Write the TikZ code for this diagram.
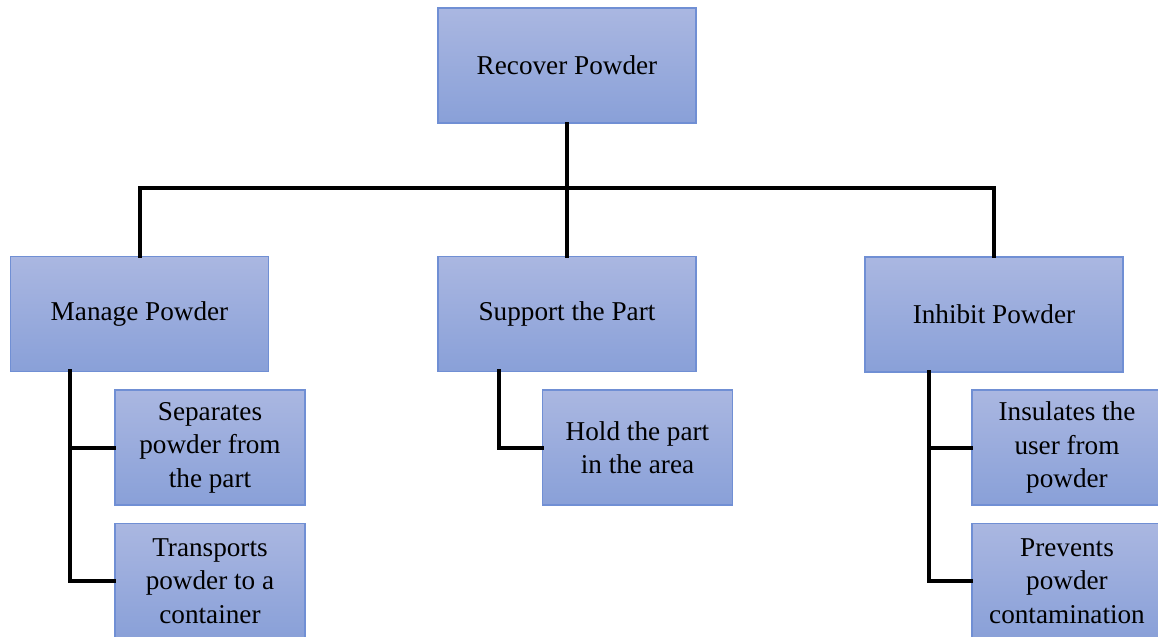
\documentclass[tikz,border=0pt]{standalone}
\usepackage{fontspec}
\setmainfont{Liberation Serif}
\usepackage{tikz}
\usetikzlibrary{positioning}
\definecolor{boxtop}{RGB}{170,183,225}
\definecolor{boxbot}{RGB}{137,160,216}
\definecolor{boxline}{RGB}{112,143,212}
\tikzset{
	box/.style={draw=boxline, line width=0.6pt, top color=boxtop, bottom color=boxbot, minimum width=129pt, minimum height=57.5pt, inner sep=0pt, align=center, font=\fontsize{13.6}{16.75}\selectfont},
	subbox/.style={box, minimum width=95pt},
	link/.style={line width=2pt, line cap=rect}
}
\begin{document}
\begin{tikzpicture}[x=0.5pt, y=-0.5pt]
				\useasboundingbox (0,0) rectangle (1158,637);
				\node[box] (R) at (567, 65.5) {Recover Powder};
				\node[box] (M) at (139.5, 314) {Manage Powder};
				\node[box] (S) at (567, 314) {Support the Part};
				\node[box] (I) at (994, 314.5) {Inhibit Powder};
				\node[subbox] (M1) at (210, 447.5) {Separates\\powder from\\the part};
				\node[subbox] (M2) at (210, 581) {Transports\\powder to a\\container};
				\node[subbox] (S1) at (637.5, 447.5) {Hold the part\\in the area};
				\node[subbox] (I1) at (1067, 447.5) {Insulates the\\user from\\powder};
				\node[subbox] (I2) at (1067, 581) {Prevents\\powder\\contamination};
				\coordinate (bus) at (567, 188);
				\coordinate (Mspine) at (70, 371);
				\coordinate (Sspine) at (499, 371);
				\coordinate (Ispine) at (929, 372);
				\draw[link] (R.south) -- (bus);
				\draw[link] (bus) -| (M.north);
				\draw[link] (bus) -- (S.north);
				\draw[link] (bus) -| (I.north);
				\draw[link] (Mspine) |- (M1.west);
				\draw[link] (Mspine) |- (M2.west);
				\draw[link] (Sspine) |- (S1.west);
				\draw[link] (Ispine) |- (I1.west);
				\draw[link] (Ispine) |- (I2.west);
			\end{tikzpicture}
\end{document}
